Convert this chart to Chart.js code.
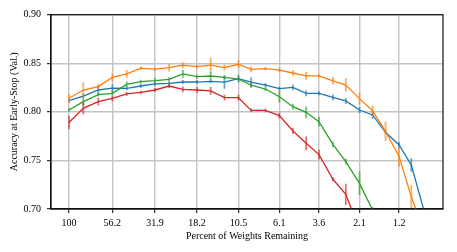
<!DOCTYPE html>
<html>
<head>
<meta charset="utf-8">
<script src="https://cdn.jsdelivr.net/npm/chart.js@4.4.1/dist/chart.umd.min.js"></script>
<style>
  html, body { margin: 0; padding: 0; background: #ffffff; }
  canvas { display: block; }
</style>
</head>
<body>
<canvas id="c" width="457" height="252"></canvas>
<script>
// Percent of weights remaining at each pruning iteration (x positions)
const percentRemaining = [100, 82.7, 67.7, 56.2, 46.4, 38.5, 31.9, 26.4, 22.0, 18.2, 15.2, 12.65, 10.5, 8.87, 7.33, 6.1, 5.09, 4.27, 3.6, 2.99, 2.52, 2.10, 1.765, 1.485, 1.24, 1.055, 0.88];
// Tick labels shown on the x axis and the iteration they sit on
const tickLabels = ["100", "56.2", "31.9", "18.2", "10.5", "6.1", "3.6", "2.1", "1.2"];
const tickIndex = [0, 3, 6, 9, 12, 15, 18, 21, 24];

// Series values (accuracy at early stop) and error half-widths
const blueAcc = [0.8115, 0.8163, 0.8225, 0.8245, 0.8242, 0.8266, 0.8287, 0.8294, 0.8307, 0.8307, 0.8314, 0.8307, 0.8342, 0.8307, 0.8276, 0.8239, 0.8252, 0.8191, 0.8191, 0.8149, 0.8112, 0.8019, 0.7968, 0.7790, 0.7659, 0.7453, 0.6950];
const blueErr = [0.002, 0.002, 0.005, 0.004, 0.002, 0.002, 0.002, 0.002, 0.002, 0.002, 0.002, 0.007, 0.004, 0.005, 0.002, 0.002, 0.003, 0.003, 0.002, 0.003, 0.003, 0.003, 0.004, 0.002, 0.003, 0.007, 0.003];

const orangeAcc = [0.8140, 0.8225, 0.8260, 0.8355, 0.8390, 0.8450, 0.8440, 0.8455, 0.8480, 0.8465, 0.8480, 0.8455, 0.8490, 0.8438, 0.8445, 0.8430, 0.8400, 0.8370, 0.8370, 0.8318, 0.8276, 0.8136, 0.8012, 0.7800, 0.7538, 0.7127, 0.6740];
const orangeErr = [0.005, 0.008, 0.003, 0.004, 0.004, 0.002, 0.002, 0.004, 0.003, 0.002, 0.008, 0.003, 0.004, 0.003, 0.002, 0.002, 0.003, 0.004, 0.002, 0.004, 0.007, 0.006, 0.005, 0.010, 0.010, 0.012, 0.010];

const greenAcc = [0.8019, 0.8105, 0.8177, 0.8191, 0.8283, 0.8311, 0.8321, 0.8335, 0.8390, 0.8362, 0.8369, 0.8355, 0.8338, 0.8276, 0.8235, 0.8156, 0.8053, 0.7995, 0.7899, 0.7666, 0.7487, 0.7264, 0.6990, null, null, null, null];
const greenErr = [0.002, 0.004, 0.002, 0.002, 0.003, 0.002, 0.003, 0.002, 0.004, 0.002, 0.004, 0.002, 0.002, 0.003, 0.002, 0.006, 0.003, 0.006, 0.005, 0.003, 0.003, 0.012, 0.003, null, null, null, null];

const redAcc = [0.7890, 0.8036, 0.8105, 0.8139, 0.8184, 0.8201, 0.8225, 0.8266, 0.8232, 0.8225, 0.8215, 0.8146, 0.8146, 0.8015, 0.8015, 0.7961, 0.7803, 0.7676, 0.7560, 0.7306, 0.7151, 0.6780, null, null, null, null, null];
const redErr = [0.007, 0.006, 0.004, 0.003, 0.002, 0.002, 0.002, 0.002, 0.003, 0.003, 0.004, 0.003, 0.003, 0.002, 0.002, 0.003, 0.003, 0.007, 0.005, 0.002, 0.011, 0.005, null, null, null, null, null];

const seriesNames = ["blue", "orange", "green", "red"];
const seriesColors = ["#1f77b4", "#ff7f0e", "#2ca02c", "#d62728"];
const seriesErrColors = ["rgba(31,119,180,0.65)", "rgba(255,127,14,0.65)", "rgba(44,160,44,0.65)", "rgba(214,39,40,0.65)"];
const seriesAcc = [blueAcc, orangeAcc, greenAcc, redAcc];
const seriesErr = [blueErr, orangeErr, greenErr, redErr];

function toPoints(acc) {
  return percentRemaining.map((p, i) => ({ x: p, y: acc[i] }));
}

const datasets = seriesAcc.map((acc, k) => ({
  label: seriesNames[k],
  data: toPoints(acc),
  errors: seriesErr[k],
  errColor: seriesErrColors[k],
  borderColor: seriesColors[k],
  backgroundColor: seriesColors[k],
  borderWidth: 1.3,
  pointRadius: 0,
  tension: 0,
  spanGaps: false,
  clip: 0,
  order: 4 - k
}));

const errorBarPlugin = {
  id: 'errorBars',
  afterDatasetDraw(chart, args) {
    const ds = chart.data.datasets[args.index];
    const xs = chart.scales.x, ys = chart.scales.y;
    const ca = chart.chartArea;
    const ctx = chart.ctx;
    ctx.save();
    ctx.beginPath();
    ctx.rect(ca.left, ca.top, ca.right - ca.left, ca.bottom - ca.top);
    ctx.clip();
    ctx.strokeStyle = ds.errColor;
    ctx.lineWidth = 1.8;
    ds.data.forEach((pt, i) => {
      const e = ds.errors[i];
      if (pt.y === null || e === null || e === undefined) return;
      const px = xs.getPixelForValue(pt.x);
      const y1 = ys.getPixelForValue(pt.y - e);
      const y2 = ys.getPixelForValue(pt.y + e);
      ctx.beginPath();
      ctx.moveTo(px, y1);
      ctx.lineTo(px, y2);
      ctx.stroke();
    });
    ctx.restore();
  }
};

const framePlugin = {
  id: 'frame',
  afterDraw(chart) {
    const ca = chart.chartArea;
    const ctx = chart.ctx;
    ctx.save();
    ctx.strokeStyle = '#111';
    ctx.lineWidth = 1.2;
    ctx.strokeRect(ca.left, ca.top, ca.right - ca.left, ca.bottom - ca.top);
    ctx.restore();
  }
};

Chart.defaults.font.family = "'Liberation Serif', 'DejaVu Serif', serif";
Chart.defaults.font.size = 10;
Chart.defaults.color = '#000';

new Chart(document.getElementById('c'), {
  type: 'line',
  data: { datasets },
  options: {
    responsive: false,
    animation: false,
    devicePixelRatio: 1,
    layout: { padding: { left: 0, right: 14, top: 14.7, bottom: 0 } },
    plugins: { legend: { display: false }, tooltip: { enabled: false } },
    scales: {
      x: {
        type: 'logarithmic',
        reverse: true,
        min: 0.692,
        max: 127,
        bounds: 'data',
        afterBuildTicks(scale) {
          scale.ticks = tickIndex.map(i => ({ value: percentRemaining[i] }));
        },
        afterFit(scale) { scale.height = 43; },
        ticks: {
          autoSkip: false,
          maxRotation: 0,
          minRotation: 0,
          padding: 4,
          font: { size: 10 },
          color: '#000',
          callback: (value, index) => tickLabels[index]
        },
        grid: { color: '#c4c4c4', lineWidth: 1.4, tickColor: '#000', tickLength: 4, tickWidth: 1 },
        border: { display: true, color: '#111', width: 1.2 },
        title: {
          display: true,
          text: 'Percent of Weights Remaining',
          font: { size: 10 },
          color: '#000',
          padding: { top: 0, bottom: 10 }
        }
      },
      y: {
        type: 'linear',
        min: 0.70,
        max: 0.90,
        afterFit(scale) { scale.width = 51; },
        ticks: {
          stepSize: 0.05,
          padding: 6,
          font: { size: 10 },
          color: '#000',
          callback: (v) => Number(v).toFixed(2)
        },
        grid: { color: '#c4c4c4', lineWidth: 1.4, tickColor: '#000', tickLength: 4, tickWidth: 1 },
        border: { display: true, color: '#111', width: 1.2 },
        title: {
          display: true,
          text: 'Accuracy at Early-Stop (Val.)',
          font: { size: 10 },
          color: '#000',
          padding: { top: 8, bottom: 0 }
        }
      }
    }
  },
  plugins: [errorBarPlugin, framePlugin]
});
</script>
</body>
</html>
